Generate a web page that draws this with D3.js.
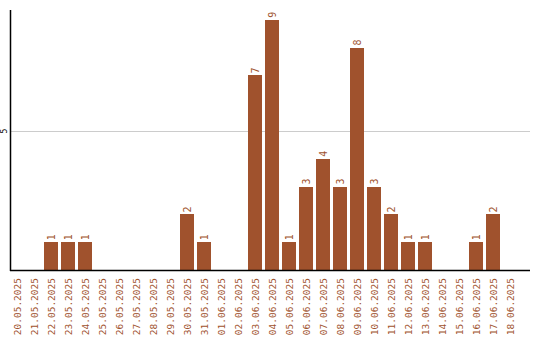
<!DOCTYPE html>
<html>
<head>
<style>
  body { margin: 0; background: #fff; }
  svg { display: block; }
  text { font-family: "DejaVu Sans Mono", monospace; }
</style>
</head>
<body>
<div id="chart"></div>
<script src="https://cdn.jsdelivr.net/npm/d3@7"></script>
<script>
var dates = ["20.05.2025","21.05.2025","22.05.2025","23.05.2025","24.05.2025","25.05.2025",
  "26.05.2025","27.05.2025","28.05.2025","29.05.2025","30.05.2025","31.05.2025",
  "01.06.2025","02.06.2025","03.06.2025","04.06.2025","05.06.2025","06.06.2025",
  "07.06.2025","08.06.2025","09.06.2025","10.06.2025","11.06.2025","12.06.2025",
  "13.06.2025","14.06.2025","15.06.2025","16.06.2025","17.06.2025","18.06.2025"];
var counts = [0,0,1,1,1,0, 0,0,0,0,2,1, 0,0,7,9,1,3, 4,3,8,3,2,1, 1,0,0,1,2,0];
var yTicks = [5];

// note: "top" is reserved on window, so use plot* names
var width = 540, height = 340,
    plotLeft = 10, plotRight = 530, plotTop = 10, plotBottom = 270;
var barColor = "#a0522d";

var svg = d3.select("#chart").append("svg")
    .attr("width", width).attr("height", height);

// 17px step, 14px bars
var x = d3.scaleBand().domain(dates).range([plotLeft, plotLeft + 507])
    .paddingInner(3 / 17).paddingOuter(0);
var y = d3.scaleLinear().domain([0, 260 / 27.8]).range([plotBottom, plotTop]);

// gridline at 5
svg.selectAll(".grid").data(yTicks).enter().append("line")
    .attr("x1", plotLeft).attr("x2", plotRight)
    .attr("y1", d => Math.round(y(d)) + 0.5).attr("y2", d => Math.round(y(d)) + 0.5)
    .attr("stroke", "#cccccc");

svg.selectAll(".ytick").data(yTicks).enter().append("text")
    .attr("transform", d => "translate(7," + y(d) + ") rotate(-90)")
    .attr("text-anchor", "middle")
    .attr("font-size", "8px")
    .attr("fill", "#000")
    .text(d => d);

var rows = dates.map((d, i) => ({date: d, v: counts[i]})).filter(r => r.v > 0);

svg.selectAll("rect").data(rows).enter().append("rect")
    .attr("x", d => x(d.date))
    .attr("width", x.bandwidth())
    .attr("y", d => Math.round(y(d.v)))
    .attr("height", d => plotBottom - Math.round(y(d.v)))
    .attr("fill", barColor);

svg.selectAll(".val").data(rows).enter().append("text")
    .attr("transform", d => "translate(" + (x(d.date) + x.bandwidth() / 2 + 3.5) + "," + (y(d.v) - 2) + ") rotate(-90)")
    .attr("font-size", "10px")
    .attr("fill", barColor)
    .text(d => d.v);

// axes lines
svg.append("line").attr("x1", plotLeft + 0.5).attr("x2", plotLeft + 0.5)
    .attr("y1", plotTop).attr("y2", plotBottom + 1)
    .attr("stroke", "#000").attr("stroke-width", 1.5);
svg.append("line").attr("x1", plotLeft).attr("x2", plotRight)
    .attr("y1", plotBottom + 0.5).attr("y2", plotBottom + 0.5)
    .attr("stroke", "#000").attr("stroke-width", 1.5);

// date labels
svg.selectAll(".xlab").data(dates).enter().append("text")
    .attr("transform", d => "translate(" + (x(d) + x.bandwidth() / 2 + 3.5) + "," + (plotBottom + 8) + ") rotate(-90)")
    .attr("text-anchor", "end")
    .attr("font-size", "9.5px")
    .attr("fill", barColor)
    .text(d => d);
</script>
</body>
</html>
